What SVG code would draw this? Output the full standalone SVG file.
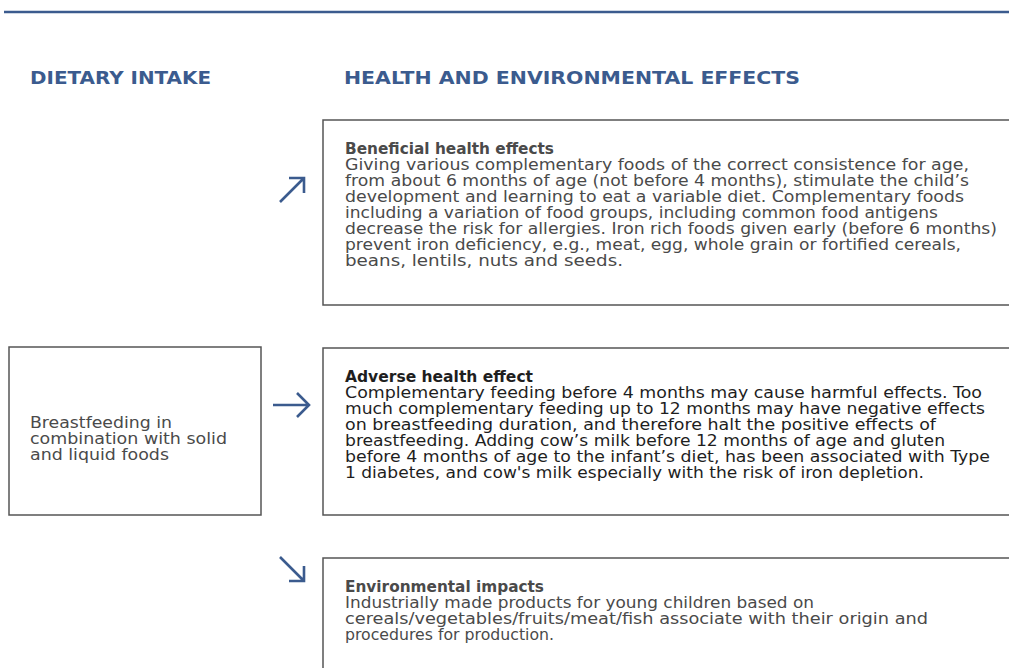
<svg xmlns="http://www.w3.org/2000/svg" width="1009" height="668" viewBox="0 0 1009 668">
<defs>
<style>
.hdr{font-family:"DejaVu Sans","Liberation Sans",sans-serif;font-weight:bold;font-size:17px;fill:#3b5b8e}
.box{fill:#fff;stroke:#555;stroke-width:1.5}
.t{font-family:"DejaVu Sans","Liberation Sans",sans-serif;font-size:15.6px;fill:#4a4a4a}
.tb{font-weight:bold}
.dark{fill:#1e1e1e}
.arr{fill:none;stroke:#3b5b8e;stroke-width:2.6;stroke-linecap:butt}
</style>
</defs>
<rect width="1009" height="668" fill="#fff"/>
<line x1="4" y1="12" x2="1009" y2="12" stroke="#3b5b8e" stroke-width="2.5"/>
<text class="hdr" x="30" y="84" textLength="181" lengthAdjust="spacingAndGlyphs">DIETARY INTAKE</text>
<text class="hdr" x="344" y="84" textLength="456" lengthAdjust="spacingAndGlyphs">HEALTH AND ENVIRONMENTAL EFFECTS</text>

<g id="intake">
<rect class="box" x="9" y="347" width="252" height="168"/>
<text class="t"><tspan x="30" y="428" textLength="142" lengthAdjust="spacingAndGlyphs">Breastfeeding in</tspan><tspan x="30" y="444" textLength="197" lengthAdjust="spacingAndGlyphs">combination with solid</tspan><tspan x="30" y="460" textLength="139" lengthAdjust="spacingAndGlyphs">and liquid foods</tspan></text>
</g>

<g id="beneficial">
<rect class="box" x="323" y="120" width="700" height="185"/>
<text class="t" lengthAdjust="spacingAndGlyphs">
<tspan class="tb" x="345" y="154" textLength="209" lengthAdjust="spacingAndGlyphs">Beneficial health effects</tspan>
<tspan x="345" y="170" textLength="624" lengthAdjust="spacingAndGlyphs">Giving various complementary foods of the correct consistence for age,</tspan>
<tspan x="345" y="186" textLength="624" lengthAdjust="spacingAndGlyphs">from about 6 months of age (not before 4 months), stimulate the child’s</tspan>
<tspan x="345" y="202" textLength="619" lengthAdjust="spacingAndGlyphs">development and learning to eat a variable diet. Complementary foods</tspan>
<tspan x="345" y="218" textLength="593" lengthAdjust="spacingAndGlyphs">including a variation of food groups, including common food antigens</tspan>
<tspan x="345" y="234" textLength="652" lengthAdjust="spacingAndGlyphs">decrease the risk for allergies. Iron rich foods given early (before 6 months)</tspan>
<tspan x="345" y="250" textLength="616" lengthAdjust="spacingAndGlyphs">prevent iron deficiency, e.g., meat, egg, whole grain or fortified cereals,</tspan>
<tspan x="345" y="266" textLength="278" lengthAdjust="spacingAndGlyphs">beans, lentils, nuts and seeds.</tspan>
</text>
</g>

<g id="adverse">
<rect class="box" x="323" y="348" width="700" height="167"/>
<text class="t dark">
<tspan class="tb" x="345" y="382" textLength="188" lengthAdjust="spacingAndGlyphs">Adverse health effect</tspan>
<tspan x="345" y="398" textLength="637" lengthAdjust="spacingAndGlyphs">Complementary feeding before 4 months may cause harmful effects. Too</tspan>
<tspan x="345" y="414" textLength="640" lengthAdjust="spacingAndGlyphs">much complementary feeding up to 12 months may have negative effects</tspan>
<tspan x="345" y="430" textLength="591" lengthAdjust="spacingAndGlyphs">on breastfeeding duration, and therefore halt the positive effects of</tspan>
<tspan x="345" y="446" textLength="600" lengthAdjust="spacingAndGlyphs">breastfeeding. Adding cow’s milk before 12 months of age and gluten</tspan>
<tspan x="345" y="462" textLength="645" lengthAdjust="spacingAndGlyphs">before 4 months of age to the infant’s diet, has been associated with Type</tspan>
<tspan x="345" y="478" textLength="579" lengthAdjust="spacingAndGlyphs">1 diabetes, and cow's milk especially with the risk of iron depletion.</tspan>
</text>
</g>

<g id="environmental">
<rect class="box" x="323" y="558" width="700" height="130"/>
<text class="t">
<tspan class="tb" x="345" y="592" textLength="199" lengthAdjust="spacingAndGlyphs">Environmental impacts</tspan>
<tspan x="345" y="608" textLength="469" lengthAdjust="spacingAndGlyphs">Industrially made products for young children based on</tspan>
<tspan x="345" y="624" textLength="583" lengthAdjust="spacingAndGlyphs">cereals/vegetables/fruits/meat/fish associate with their origin and</tspan>
<tspan x="345" y="640" textLength="209" lengthAdjust="spacingAndGlyphs">procedures for production.</tspan>
</text>
</g>

<g id="connectors">
<path class="arr" d="M280,202 L304,178 M289,178 L304,178 L304,193"/>
<path class="arr" d="M273,405 L309,405 M297,393 L309,405 L297,417"/>
<path class="arr" d="M280,557 L304,581 M304,566 L304,581 L289,581"/>
</g>
</svg>
